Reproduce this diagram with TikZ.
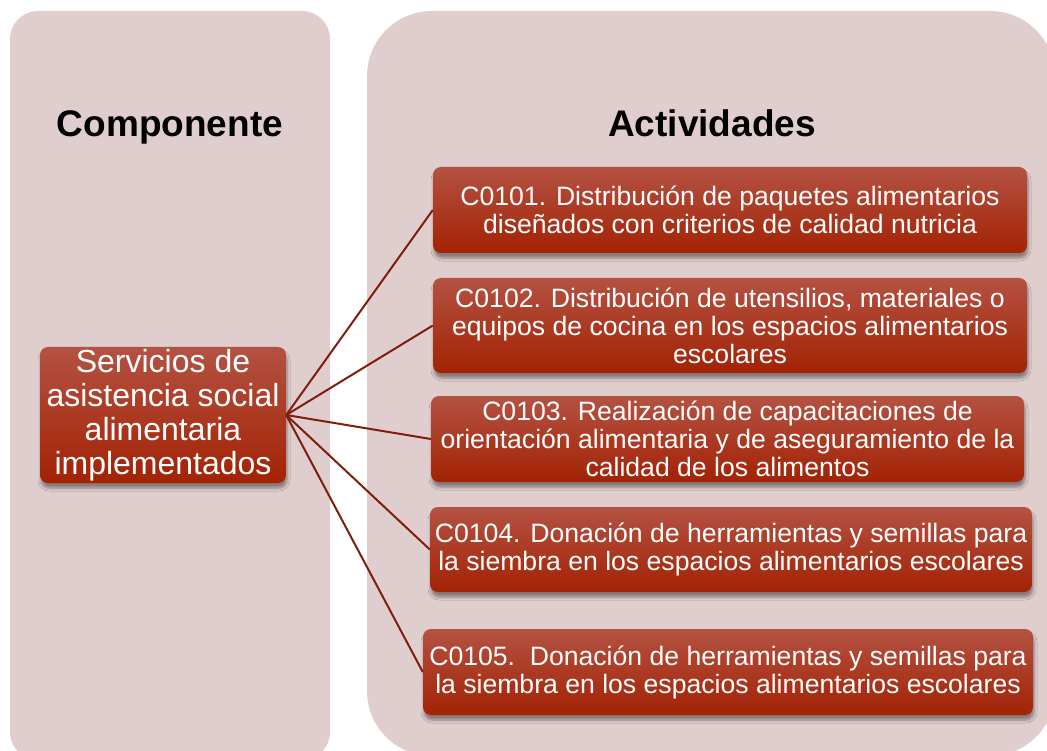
\documentclass[tikz,border=0pt]{standalone}
\usepackage{fontspec}
\setmainfont{Liberation Sans}
\usetikzlibrary{shadows.blur}
\definecolor{panelfill}{RGB}{224,205,205}
\definecolor{boxtop}{RGB}{180,82,66}
\definecolor{boxbot}{RGB}{163,34,4}
\definecolor{linkcol}{RGB}{128,30,12}
\begin{document}
\begin{tikzpicture}[x=1pt,y=-1pt,
  header/.style={font=\fontsize{37}{40}\selectfont\bfseries, text=black, inner sep=0pt, anchor=base},
  redbox/.style={rounded corners=8pt, top color=boxtop, bottom color=boxbot, draw=none,
    text=white, align=center, inner sep=0pt,
    blur shadow={shadow xshift=1pt, shadow yshift=-5pt, shadow blur radius=3pt, shadow opacity=40}},
  compbox/.style={redbox, font=\fontsize{32}{34}\selectfont},
  actbox/.style={redbox, font=\fontsize{26.6}{28}\selectfont},
  link/.style={draw=linkcol, line width=2pt}]
\useasboundingbox (0,0) rectangle (1047,751);
\clip (0,0) rectangle (1047,751);
% panels
\fill[panelfill, rounded corners=28pt] (10,11) rectangle (330,760);
\fill[panelfill, rounded corners=65pt] (367,11) rectangle (1055,756);
% headers
\node[header] (h1) at (170,136.5) {Componente};
\node[header] (h2) at (712,136.5) {Actividades};
% component
\node[compbox, minimum width=246pt, minimum height=136pt] (comp) at (163,415)
  {Servicios de\\asistencia social\\alimentaria\\implementados};
% activities
\node[actbox, minimum width=594pt, minimum height=86pt] (a1) at (730,210)
  {C0101. Distribución de paquetes alimentarios\\diseñados con criterios de calidad nutricia};
\node[actbox, minimum width=594pt, minimum height=95pt] (a2) at (730,325.5)
  {C0102. Distribución de utensilios, materiales o\\equipos de cocina en los espacios alimentarios\\escolares};
\node[actbox, minimum width=593pt, minimum height=86pt] (a3) at (727.5,439)
  {C0103. Realización de capacitaciones de\\orientación alimentaria y de aseguramiento de la\\calidad de los alimentos};
\node[actbox, minimum width=602pt, minimum height=85pt] (a4) at (731,549.5)
  {C0104. Donación de herramientas y semillas para\\la siembra en los espacios alimentarios escolares};
\node[actbox, minimum width=610pt, minimum height=86pt] (a5) at (728,672)
  {C0105.\ \ Donación de herramientas y semillas para\\la siembra en los espacios alimentarios escolares};
% connectors
\draw[link] (comp.east) -- (a1.west);
\draw[link] (comp.east) -- (a2.west);
\draw[link] (comp.east) -- (a3.west);
\draw[link] (comp.east) -- (a4.west);
\draw[link] (comp.east) -- (a5.west);
\end{tikzpicture}
\end{document}
